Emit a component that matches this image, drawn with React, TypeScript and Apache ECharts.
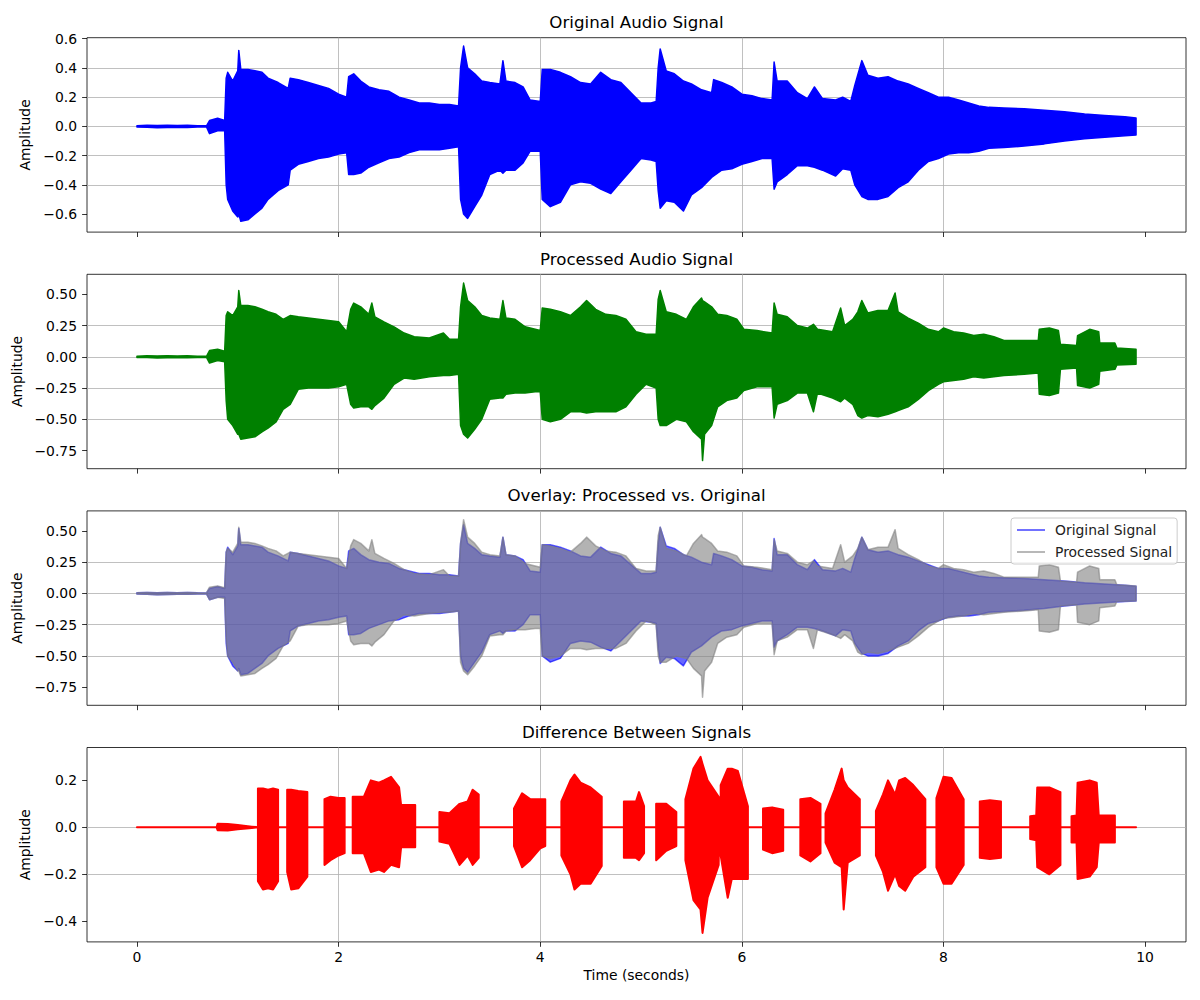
import React, { useEffect, useRef } from "react";
import * as echarts from "echarts";

// ---------- tick labels ----------
const TIME_TICKS = [0, 2, 4, 6, 8, 10];
const AMP_TICKS_ORIG = [-0.6, -0.4, -0.2, 0, 0.2, 0.4, 0.6];
const AMP_TICKS_PROC = [-0.75, -0.5, -0.25, 0, 0.25, 0.5];
const AMP_TICKS_DIFF = [-0.4, -0.2, 0, 0.2];

const TITLES = [
  "Original Audio Signal",
  "Processed Audio Signal",
  "Overlay: Processed vs. Original",
  "Difference Between Signals",
];
const LEGEND_NAMES = ["Original Signal", "Processed Signal"];

// ---------- original signal envelope (time s, upper, lower) ----------
const ORIG_T = [
  0, 0.1, 0.2, 0.3, 0.4, 0.5, 0.6, 0.69, 0.72, 0.8,
  0.87, 0.885, 0.9, 0.95, 1.0, 1.01, 1.03, 1.1, 1.17, 1.24,
  1.3, 1.4, 1.5, 1.52, 1.6, 1.7, 1.8, 1.9, 2.0, 2.08,
  2.1, 2.15, 2.22, 2.3, 2.4, 2.5, 2.6, 2.7, 2.8, 2.9,
  3.0, 3.1, 3.19, 3.21, 3.24, 3.28, 3.35, 3.42, 3.5, 3.6,
  3.63, 3.66, 3.75, 3.83, 3.9, 4.0, 4.02, 4.1, 4.2, 4.3,
  4.4, 4.5, 4.6, 4.7, 4.8, 4.9, 5.0, 5.1, 5.15, 5.17,
  5.19, 5.25, 5.33, 5.42, 5.5, 5.6, 5.7, 5.72, 5.8, 5.9,
  6.0, 6.1, 6.2, 6.3, 6.32, 6.35, 6.45, 6.55, 6.65, 6.72,
  6.8, 6.93, 7.0, 7.08, 7.12, 7.19, 7.25, 7.35, 7.45, 7.55,
  7.65, 7.75, 7.85, 7.95, 8.05, 8.15, 8.25, 8.35, 8.45, 8.6,
  8.8, 9.0, 9.2, 9.4, 9.6, 9.8, 9.91,
];
const ORIG_HI = [
  0.005, 0.008, 0.006, 0.008, 0.006, 0.008, 0.005, 0.004, 0.04, 0.055,
  0.04, 0.33, 0.37, 0.31, 0.38, 0.52, 0.39, 0.39, 0.38, 0.37,
  0.33, 0.3, 0.26, 0.33, 0.32, 0.3, 0.28, 0.26, 0.22, 0.2,
  0.34, 0.36, 0.31, 0.27, 0.25, 0.24, 0.2, 0.18, 0.16, 0.16,
  0.15, 0.15, 0.14, 0.4, 0.55, 0.4, 0.36, 0.31, 0.3, 0.29,
  0.45, 0.31, 0.3, 0.27, 0.18, 0.17, 0.39, 0.39, 0.37, 0.34,
  0.3, 0.29, 0.37, 0.32, 0.3, 0.23, 0.16, 0.16, 0.17, 0.4,
  0.53, 0.38, 0.36, 0.31, 0.29, 0.25, 0.23, 0.32, 0.3, 0.27,
  0.22, 0.21, 0.19, 0.18, 0.44, 0.31, 0.31, 0.23, 0.19, 0.27,
  0.19, 0.18, 0.2, 0.17, 0.28, 0.45, 0.35, 0.33, 0.34, 0.31,
  0.29, 0.26, 0.23, 0.2, 0.2, 0.18, 0.16, 0.14, 0.13, 0.125,
  0.12, 0.11, 0.1, 0.085, 0.075, 0.065, 0.057,
];
const ORIG_LO = [
  -0.005, -0.006, -0.01, -0.008, -0.006, -0.007, -0.005, -0.004, -0.05, -0.03,
  -0.03, -0.4, -0.5, -0.58, -0.62, -0.6, -0.65, -0.64, -0.6, -0.56,
  -0.5, -0.44, -0.4, -0.3, -0.26, -0.24, -0.22, -0.21, -0.19, -0.18,
  -0.33, -0.33, -0.32, -0.28, -0.25, -0.22, -0.21, -0.18, -0.16, -0.16,
  -0.16, -0.15, -0.14, -0.5, -0.6, -0.63, -0.55, -0.47, -0.33, -0.3,
  -0.32, -0.3, -0.3, -0.25, -0.17, -0.17, -0.5, -0.55, -0.52, -0.4,
  -0.38, -0.39, -0.43, -0.46, -0.38, -0.3, -0.22, -0.23, -0.24, -0.44,
  -0.56, -0.51, -0.52, -0.58, -0.47, -0.42, -0.35, -0.34, -0.3, -0.29,
  -0.26, -0.24, -0.22, -0.22, -0.43, -0.38, -0.33, -0.27, -0.27, -0.28,
  -0.3, -0.34, -0.29, -0.3, -0.4, -0.48, -0.5, -0.5, -0.48, -0.42,
  -0.38, -0.3, -0.24, -0.22, -0.19, -0.18, -0.18, -0.17, -0.15, -0.145,
  -0.135, -0.12, -0.1, -0.085, -0.075, -0.065, -0.06,
];

// ---------- processed signal envelope ----------
const PROC_T = [
  0, 0.1, 0.2, 0.3, 0.4, 0.5, 0.6, 0.69, 0.72, 0.8,
  0.87, 0.885, 0.9, 0.95, 1.0, 1.01, 1.03, 1.1, 1.17, 1.24,
  1.3, 1.38, 1.45, 1.52, 1.6, 1.7, 1.8, 1.9, 2.0, 2.08,
  2.12, 2.15, 2.22, 2.3, 2.33, 2.36, 2.45, 2.55, 2.65, 2.75,
  2.9, 3.04, 3.1, 3.19, 3.21, 3.24, 3.28, 3.35, 3.42, 3.5,
  3.6, 3.63, 3.66, 3.75, 3.85, 3.95, 4.0, 4.02, 4.1, 4.2,
  4.3, 4.4, 4.46, 4.55, 4.65, 4.75, 4.85, 4.95, 5.05, 5.15,
  5.17, 5.19, 5.25, 5.35, 5.45, 5.52, 5.6, 5.61, 5.63, 5.7,
  5.76, 5.85, 5.95, 6.02, 6.15, 6.3, 6.32, 6.35, 6.45, 6.55,
  6.65, 6.71, 6.75, 6.9, 6.98, 7.02, 7.1, 7.15, 7.19, 7.25,
  7.35, 7.45, 7.52, 7.55, 7.65, 7.75, 7.85, 7.95, 8.0, 8.1,
  8.2, 8.3, 8.4, 8.5, 8.6, 8.8, 8.94, 8.95, 9.05, 9.14,
  9.16, 9.32, 9.33, 9.45, 9.54, 9.55, 9.7, 9.72, 9.91,
];
const PROC_HI = [
  0.005, 0.008, 0.006, 0.008, 0.006, 0.008, 0.005, 0.004, 0.05, 0.06,
  0.045, 0.33, 0.36, 0.33, 0.4, 0.53, 0.41, 0.41, 0.4, 0.38,
  0.36, 0.34, 0.3, 0.33, 0.32, 0.31, 0.3, 0.29, 0.28, 0.2,
  0.38, 0.43, 0.4, 0.34, 0.43, 0.32, 0.28, 0.24, 0.19, 0.16,
  0.15, 0.19, 0.14, 0.14, 0.4, 0.59, 0.45, 0.4, 0.33, 0.31,
  0.3, 0.45, 0.31, 0.3, 0.24, 0.22, 0.21, 0.39, 0.38, 0.36,
  0.33, 0.4, 0.45, 0.38, 0.34, 0.33, 0.3, 0.2, 0.18, 0.18,
  0.46, 0.53, 0.36, 0.34, 0.3, 0.4, 0.47, 0.45, 0.44, 0.4,
  0.34, 0.33, 0.3, 0.22, 0.21, 0.19, 0.43, 0.34, 0.32, 0.25,
  0.23, 0.26, 0.22, 0.2, 0.39, 0.25, 0.3, 0.36, 0.45, 0.35,
  0.37, 0.37, 0.51, 0.36, 0.31, 0.27, 0.22, 0.2, 0.23, 0.2,
  0.19, 0.17, 0.18, 0.16, 0.13, 0.13, 0.13, 0.22, 0.23, 0.21,
  0.1, 0.09, 0.17, 0.22, 0.2, 0.11, 0.11, 0.07, 0.06,
];
const PROC_LO = [
  -0.005, -0.006, -0.01, -0.008, -0.006, -0.007, -0.005, -0.004, -0.05, -0.03,
  -0.04, -0.35, -0.5, -0.55, -0.62, -0.62, -0.66, -0.65, -0.64, -0.6,
  -0.57, -0.52, -0.42, -0.38, -0.26, -0.25, -0.25, -0.25, -0.24, -0.22,
  -0.38, -0.41, -0.4, -0.4, -0.42, -0.39, -0.33, -0.22, -0.17, -0.18,
  -0.16, -0.15, -0.15, -0.14, -0.55, -0.62, -0.65, -0.58, -0.5, -0.34,
  -0.33, -0.33, -0.3, -0.29, -0.29, -0.28, -0.28, -0.5, -0.52, -0.5,
  -0.44, -0.44, -0.45, -0.44, -0.44, -0.44, -0.4, -0.3, -0.22, -0.25,
  -0.5, -0.55, -0.55, -0.5, -0.52, -0.6, -0.66, -0.83, -0.62, -0.55,
  -0.4, -0.35, -0.33, -0.27, -0.24, -0.24, -0.49, -0.38, -0.35, -0.29,
  -0.29, -0.44, -0.29, -0.33, -0.36, -0.33, -0.38, -0.47, -0.49, -0.47,
  -0.48, -0.46, -0.44, -0.43, -0.4, -0.34, -0.27, -0.22, -0.2, -0.19,
  -0.18, -0.16, -0.17, -0.16, -0.15, -0.14, -0.13, -0.3, -0.31, -0.29,
  -0.1, -0.09, -0.23, -0.25, -0.22, -0.115, -0.1, -0.065, -0.06,
];

// ---------- difference signal envelope ----------
const DIFF_T = [
  0, 0.79, 0.8, 0.9, 1.0, 1.14, 1.2, 1.2, 1.25, 1.3,
  1.35, 1.4, 1.4, 1.49, 1.49, 1.53, 1.6, 1.69, 1.69, 1.86,
  1.86, 1.92, 2.0, 2.06, 2.06, 2.14, 2.14, 2.25, 2.32, 2.4,
  2.45, 2.52, 2.6, 2.62, 2.76, 2.76, 3.0, 3.0, 3.1, 3.2,
  3.28, 3.33, 3.39, 3.39, 3.74, 3.74, 3.82, 3.9, 4.0, 4.05,
  4.05, 4.21, 4.21, 4.3, 4.34, 4.4, 4.5, 4.61, 4.61, 4.83,
  4.83, 4.95, 4.98, 5.03, 5.03, 5.15, 5.15, 5.25, 5.35, 5.35,
  5.44, 5.44, 5.52, 5.59, 5.61, 5.66, 5.77, 5.775, 5.79, 5.79,
  5.86, 5.9, 5.96, 6.06, 6.06, 6.21, 6.21, 6.3, 6.41, 6.41,
  6.58, 6.58, 6.68, 6.78, 6.78, 6.83, 6.83, 6.92, 6.99, 7.01,
  7.05, 7.17, 7.17, 7.33, 7.33, 7.4, 7.45, 7.52, 7.56, 7.62,
  7.7, 7.82, 7.82, 7.93, 7.93, 8.0, 8.08, 8.2, 8.2, 8.36,
  8.36, 8.46, 8.57, 8.57, 8.86, 8.86, 8.92, 8.93, 9.05, 9.16,
  9.16, 9.27, 9.27, 9.32, 9.33, 9.45, 9.52, 9.54, 9.7, 9.7,
  9.91,
];
const DIFF_HI = [
  0, 0, 0.015, 0.014, 0.01, 0.003, 0, 0.165, 0.165, 0.16,
  0.165, 0.16, 0, 0, 0.16, 0.16, 0.155, 0.15, 0, 0,
  0.12, 0.13, 0.125, 0.125, 0, 0, 0.13, 0.13, 0.2, 0.19,
  0.2, 0.215, 0.17, 0.095, 0.095, 0, 0, 0.065, 0.06, 0.1,
  0.11, 0.16, 0.14, 0, 0, 0.08, 0.145, 0.12, 0.12, 0.12,
  0, 0, 0.11, 0.2, 0.225, 0.19, 0.17, 0.13, 0, 0,
  0.11, 0.11, 0.15, 0.09, 0, 0, 0.1, 0.1, 0.065, 0,
  0, 0.12, 0.25, 0.3, 0.27, 0.2, 0.13, 0, 0, 0.18,
  0.25, 0.25, 0.24, 0.09, 0, 0, 0.08, 0.085, 0.075, 0,
  0, 0.12, 0.125, 0.1, 0, 0, 0.06, 0.16, 0.25, 0.2,
  0.17, 0.12, 0, 0, 0.07, 0.14, 0.2, 0.14, 0.2, 0.21,
  0.18, 0.12, 0, 0, 0.125, 0.215, 0.21, 0.12, 0, 0,
  0.11, 0.115, 0.11, 0, 0, 0.047, 0.05, 0.17, 0.17, 0.15,
  0, 0, 0.047, 0.05, 0.19, 0.2, 0.19, 0.05, 0.05, 0,
  0,
];
const DIFF_LO = [
  0, 0, -0.012, -0.014, -0.008, -0.003, 0, -0.23, -0.265, -0.26,
  -0.265, -0.23, 0, 0, -0.19, -0.265, -0.26, -0.21, 0, 0,
  -0.16, -0.14, -0.12, -0.11, 0, 0, -0.11, -0.11, -0.19, -0.18,
  -0.19, -0.16, -0.17, -0.085, -0.085, 0, 0, -0.06, -0.07, -0.16,
  -0.12, -0.16, -0.13, 0, 0, -0.08, -0.17, -0.14, -0.09, -0.08,
  0, 0, -0.12, -0.2, -0.265, -0.24, -0.24, -0.165, 0, 0,
  -0.13, -0.13, -0.14, -0.11, 0, 0, -0.14, -0.1, -0.08, 0,
  0, -0.14, -0.31, -0.35, -0.45, -0.3, -0.16, 0, 0, -0.12,
  -0.3, -0.22, -0.22, -0.22, 0, 0, -0.095, -0.11, -0.1, 0,
  0, -0.12, -0.145, -0.11, 0, 0, -0.065, -0.15, -0.17, -0.35,
  -0.15, -0.12, 0, 0, -0.12, -0.19, -0.27, -0.2, -0.25, -0.27,
  -0.21, -0.17, 0, 0, -0.17, -0.24, -0.24, -0.16, 0, 0,
  -0.13, -0.135, -0.13, 0, 0, -0.05, -0.055, -0.17, -0.2, -0.16,
  0, 0, -0.065, -0.065, -0.22, -0.21, -0.17, -0.065, -0.065, 0,
  0,
];

// ---------- layout ----------
const FONT = '"DejaVu Sans", "Liberation Sans", sans-serif';
const GRID_LEFT = 87;
const GRID_WIDTH = 1099;
const GRID_HEIGHT = 194.4;
const GRID_TOPS = [37.7, 274.3, 510.9, 747.5];
const X_MIN = -0.4955;
const X_MAX = 10.4055;
const Y_RANGES = [
  [-0.724, 0.607],
  [-0.895, 0.66],
  [-0.895, 0.66],
  [-0.488, 0.34],
];
const Y_TICKS = [AMP_TICKS_ORIG, AMP_TICKS_PROC, AMP_TICKS_PROC, AMP_TICKS_DIFF];
const Y_STEPS = [0.2, 0.25, 0.25, 0.2];
const Y_DECIMALS = [1, 2, 2, 1];

const fmt = (v: number, d: number) => {
  const x = Math.abs(v) < 1e-9 ? 0 : v;
  return x.toFixed(d).replace("-", "\u2212");
};

function bandSeries(
  idx: number,
  name: string,
  T: number[],
  HI: number[],
  LO: number[],
  color: string,
  opacity: number,
  legendColor: string,
  lineWidth: number
) {
  return {
    type: "custom",
    name,
    xAxisIndex: idx,
    yAxisIndex: idx,
    silent: true,
    clip: true,
    itemStyle: { color: legendColor },
    encode: { x: 0, y: [1, 2] },
    data: T.map((t, i) => [t, HI[i], LO[i]]),
    renderItem: (params: any, api: any) => {
      if (params.dataIndex !== 0) return null;
      const pts: number[][] = [];
      for (let i = 0; i < T.length; i++) pts.push(api.coord([T[i], HI[i]]));
      for (let i = T.length - 1; i >= 0; i--) pts.push(api.coord([T[i], LO[i]]));
      return {
        type: "polygon",
        shape: { points: pts },
        style: {
          fill: color,
          stroke: color,
          lineWidth,
          lineJoin: "round",
          opacity,
        },
      };
    },
  };
}

export default function App() {
  const ref = useRef<HTMLDivElement>(null);

  useEffect(() => {
    if (!ref.current) return;
    const chart = echarts.init(ref.current, null, { renderer: "svg" });

    const grids = GRID_TOPS.map((top) => ({
      left: GRID_LEFT,
      top,
      width: GRID_WIDTH,
      height: GRID_HEIGHT,
      show: true,
      borderColor: "#000",
      borderWidth: 0.8,
      backgroundColor: "transparent",
      containLabel: false,
    }));

    const xAxes = GRID_TOPS.map((_, i) => ({
      type: "value",
      gridIndex: i,
      position: "bottom",
      min: X_MIN,
      max: X_MAX,
      minInterval: 2,
      maxInterval: 2,
      axisLine: { show: false, onZero: false },
      axisTick: {
        show: true,
        length: 4.9,
        inside: false,
        customValues: TIME_TICKS,
        lineStyle: { color: "#000", width: 0.8 },
      },
      axisLabel: {
        show: i === 3,
        customValues: TIME_TICKS,
        margin: 8,
        color: "#000",
        fontSize: 13.9,
        fontFamily: FONT,
        formatter: (v: number) => String(Math.round(v)),
      },
      splitLine: {
        show: true,
        showMinLine: false,
        showMaxLine: false,
        lineStyle: { color: "#b0b0b0", width: 0.8 },
      },
      name: i === 3 ? "Time (seconds)" : "",
      nameLocation: "middle",
      nameGap: 26,
      nameTextStyle: { color: "#000", fontSize: 13.9, fontFamily: FONT },
    }));

    const yAxes = GRID_TOPS.map((_, i) => ({
      type: "value",
      gridIndex: i,
      position: "left",
      min: Y_RANGES[i][0],
      max: Y_RANGES[i][1],
      minInterval: Y_STEPS[i],
      maxInterval: Y_STEPS[i],
      axisLine: { show: false, onZero: false },
      axisTick: {
        show: true,
        length: 4.9,
        inside: false,
        customValues: Y_TICKS[i],
        lineStyle: { color: "#000", width: 0.8 },
      },
      axisLabel: {
        show: true,
        customValues: Y_TICKS[i],
        margin: 10,
        color: "#000",
        fontSize: 13.9,
        fontFamily: FONT,
        formatter: (v: number) => fmt(v, Y_DECIMALS[i]),
      },
      splitLine: {
        show: true,
        showMinLine: false,
        showMaxLine: false,
        lineStyle: { color: "#b0b0b0", width: 0.8 },
      },
      name: "Amplitude",
      nameLocation: "middle",
      nameGap: 46,
      nameTextStyle: { color: "#000", fontSize: 13.9, fontFamily: FONT },
    }));

    const series = [
      bandSeries(0, "orig-main", ORIG_T, ORIG_HI, ORIG_LO, "#0000ff", 1, "#0000ff", 1.5),
      bandSeries(1, "proc-main", PROC_T, PROC_HI, PROC_LO, "#008000", 1, "#008000", 1.5),
      bandSeries(2, LEGEND_NAMES[0], ORIG_T, ORIG_HI, ORIG_LO, "#0000ff", 0.6, "rgba(0,0,255,0.6)", 1.5),
      bandSeries(2, LEGEND_NAMES[1], PROC_T, PROC_HI, PROC_LO, "#808080", 0.6, "rgba(128,128,128,0.6)", 1.5),
      bandSeries(3, "diff-main", DIFF_T, DIFF_HI, DIFF_LO, "#ff0000", 1, "#ff0000", 2),
    ];

    const titles = TITLES.map((t, i) => ({
      type: "text",
      x: GRID_LEFT + GRID_WIDTH / 2,
      y: GRID_TOPS[i] - 15,
      silent: true,
      style: {
        text: t,
        fill: "#000",
        fontSize: 16.67,
        fontFamily: FONT,
        align: "center",
        verticalAlign: "middle",
        textAlign: "center",
        textVerticalAlign: "middle",
      },
    }));

    chart.setOption({
      animation: false,
      backgroundColor: "#ffffff",
      grid: grids,
      xAxis: xAxes,
      yAxis: yAxes,
      legend: {
        data: LEGEND_NAMES.map((n) => ({ name: n })),
        orient: "vertical",
        left: 1011,
        top: 518,
        padding: [4, 5, 4, 6],
        itemGap: 6,
        itemWidth: 28,
        itemHeight: 14,
        icon: "path://M0,0H30V2H0Z",
        selectedMode: false,
        backgroundColor: "rgba(255,255,255,0.8)",
        borderColor: "#cccccc",
        borderWidth: 1,
        borderRadius: 3,
        textStyle: {
          color: "#222",
          fontSize: 13.9,
          fontFamily: FONT,
          lineHeight: 16,
          padding: [0, 0, 0, 5],
        },
      },
      graphic: titles,
      series,
    });

    return () => chart.dispose();
  }, []);

  return (
    <div
      ref={ref}
      style={{ position: "absolute", left: 0, top: 0, width: 1200, height: 1000 }}
    />
  );
}
